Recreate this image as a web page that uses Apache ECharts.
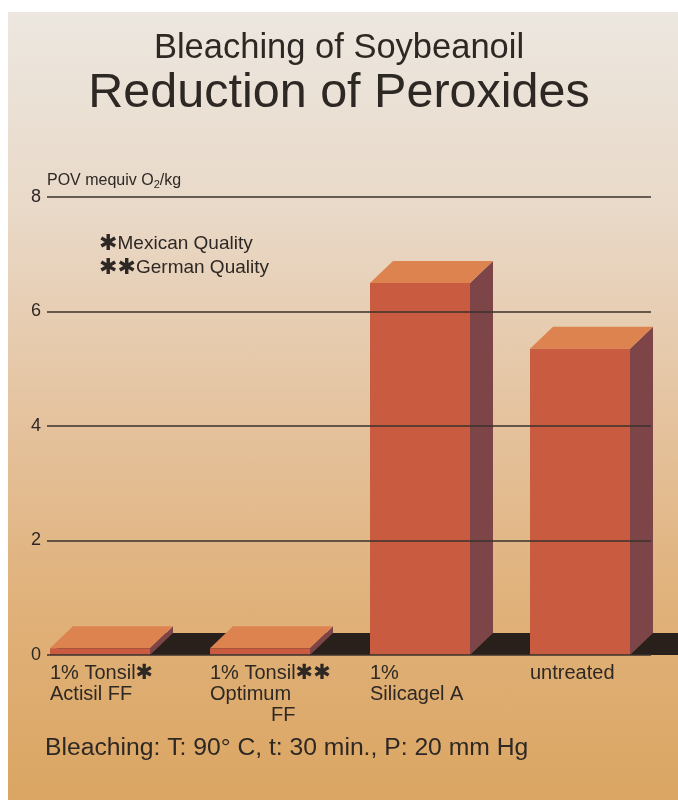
<!DOCTYPE html>
<html>
<head>
<meta charset="utf-8">
<style>
  html, body { margin: 0; padding: 0; background: #ffffff; }
  #bg { position: absolute; left: 8px; top: 12px; width: 670px; height: 788px;
        background: linear-gradient(to bottom, #ece7e0 0%, #e9d9c8 25%, #e5c4a1 50%, #e0b17a 75%, #dba663 100%); }
  #main { position: absolute; left: 0; top: 0; width: 678px; height: 800px; }
</style>
<script src="https://cdn.jsdelivr.net/npm/echarts@6.0.0/dist/echarts.min.js"></script>
</head>
<body>
<div id="bg"></div>
<div id="main"></div>
<script>
/******************** data ********************/
var categories = ['Actisil FF', 'Optimum FF', 'Silicagel A', 'untreated'];
var catLabels = [
    '1% Tonsil{s|✱}\nActisil FF',
    '1% Tonsil{s|✱✱}\nOptimum\n           FF',
    '1%\nSilicagel A',
    'untreated'
];
var povValues = [0.12, 0.12, 6.5, 5.35];
var yMin = 0, yMax = 8, yStep = 2;

/******************** style ********************/
var FONT = '"Liberation Sans", Arial, Helvetica, sans-serif';
var INK = '#2e2824';
var DX = 23, DY = 22;          // 3D depth of the bars
var FRONT = '#c95b40', TOP = '#dc8350', SIDE = '#7d4547', FLOOR = '#2a201b';

var chart = echarts.init(document.getElementById('main'), null, {renderer: 'canvas'});

// black floor behind the bars
function renderFloor(params, api) {
    var base = api.coord([0, 0]);
    var bw = api.size([1, 0])[0] * 0.625;
    var x0 = base[0] - bw / 2;
    var xr = api.getWidth();
    var yB = base[1];
    return {
        type: 'polygon',
        shape: {points: [[x0, yB], [xr, yB], [xr, yB - DY], [x0 + DX, yB - DY]]},
        style: {fill: FLOOR}
    };
}

// 3D bar: front, top, side + category label
function renderBar(params, api) {
    var idx = api.value(0);
    var top = api.coord([idx, api.value(1)]);
    var base = api.coord([idx, 0]);
    var bw = api.size([1, 0])[0] * 0.625;
    var x0 = top[0] - bw / 2, x1 = top[0] + bw / 2;
    var yT = top[1], yB = base[1];
    return {
        type: 'group',
        children: [
            {type: 'polygon', shape: {points: [[x1, yT], [x1 + DX, yT - DY], [x1 + DX, yB - DY], [x1, yB]]}, style: {fill: SIDE}},
            {type: 'polygon', shape: {points: [[x0, yT], [x1, yT], [x1 + DX, yT - DY], [x0 + DX, yT - DY]]}, style: {fill: TOP}},
            {type: 'rect', shape: {x: x0, y: yT, width: bw, height: yB - yT}, style: {fill: FRONT}},
            {type: 'text', style: {
                text: catLabels[idx], x: x0, y: yB + 8, align: 'left', verticalAlign: 'top',
                fill: INK, fontSize: 20, fontFamily: FONT, lineHeight: 21,
                rich: {s: {fontSize: 21, fontFamily: '"DejaVu Sans", sans-serif', fontWeight: 'bold', fill: INK, lineHeight: 21}}
            }}
        ]
    };
}

var barData = povValues.map(function (v, i) { return [i, v]; });

var option = {
    backgroundColor: 'transparent',
    animation: false,
    grid: [
        {left: 47, right: 27, top: 197, bottom: 145},
        {left: 20, right: 18, top: 197, bottom: 145}
    ],
    xAxis: [
        {type: 'value', gridIndex: 0, show: false, min: 0, max: 1},
        {type: 'category', gridIndex: 1, data: categories, show: false}
    ],
    yAxis: [
        {type: 'value', gridIndex: 0, min: yMin, max: yMax, interval: yStep, z: 10,
         axisLine: {show: false}, axisTick: {show: false},
         axisLabel: {fontSize: 18, color: INK, fontFamily: FONT, margin: 6, padding: [4, 0, 0, 0]},
         splitLine: {lineStyle: {color: '#3a322d', width: 1.5}},
         name: 'POV mequiv O{sub|2}/kg', nameLocation: 'end', nameGap: 7,
         nameTextStyle: {align: 'left', verticalAlign: 'bottom', fontSize: 16, color: INK, fontFamily: FONT,
                         rich: {sub: {fontSize: 11, color: INK, fontFamily: FONT, padding: [8, 0, 0, 0]}}}},
        {type: 'value', gridIndex: 1, min: yMin, max: yMax, show: false}
    ],
    series: [
        {type: 'custom', xAxisIndex: 1, yAxisIndex: 1, z: 1, renderItem: renderFloor, data: [[0, 0]], silent: true},
        {type: 'custom', xAxisIndex: 1, yAxisIndex: 1, z: 2, renderItem: renderBar, data: barData}
    ],
    graphic: [
        {type: 'text', left: 'center', top: 31, style: {text: 'Bleaching of Soybeanoil', fontSize: 34.5, fontFamily: FONT, fill: INK}, x: 4},
        {type: 'text', left: 'center', top: 69, style: {text: 'Reduction of Peroxides', fontSize: 48.5, fontFamily: FONT, fill: INK}, x: 4},
        {type: 'text', right: 409, top: 232, style: {text: '{s|✱}Mexican Quality\n{s|✱✱}German Quality', align: 'right', fontSize: 19, lineHeight: 24, fontFamily: FONT, fill: INK,
            rich: {s: {fontSize: 22, fontFamily: '"DejaVu Sans", sans-serif', fontWeight: 'bold', fill: INK, lineHeight: 24}}}},
        {type: 'text', left: 45, top: 736, style: {text: 'Bleaching: T: 90° C, t: 30 min., P: 20 mm Hg', fontSize: 24.7, fontFamily: FONT, fill: INK}}
    ]
};

chart.setOption(option);
</script>
</body>
</html>
